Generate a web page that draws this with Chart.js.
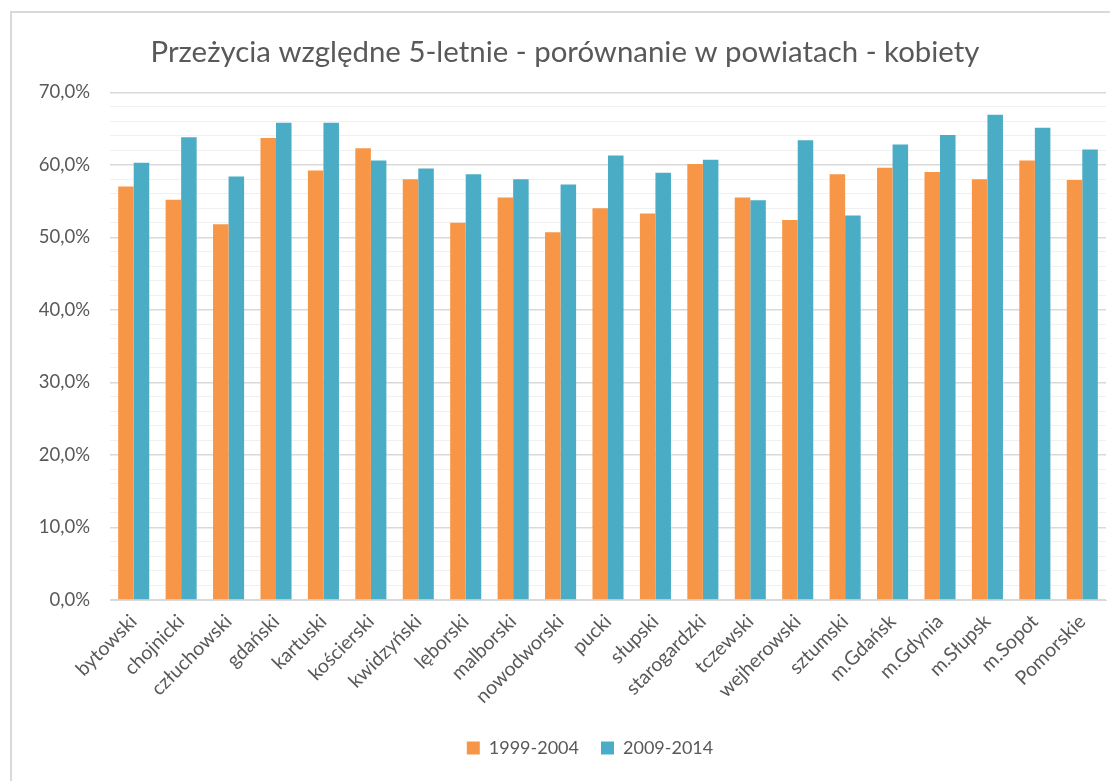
<!DOCTYPE html>
<html lang="pl">
<head>
<meta charset="utf-8">
<title>Przeżycia względne 5-letnie - kobiety</title>
<script src="https://cdn.jsdelivr.net/npm/chart.js@4/dist/chart.umd.min.js"></script>
<style>
    html, body { margin: 0; padding: 0; background: #fff; }
    #wrap { position: relative; width: 1110px; height: 781px; overflow: hidden; }
    #frame {
        position: absolute; left: 10px; top: 11px; width: 1300px; height: 900px;
        border-top: 2px solid #d9d9d9; border-left: 2px solid #d9d9d9;
    }
    #chartPrzezycia { position: absolute; left: 0; top: 0; }
</style>
</head>
<body>
<div id="wrap">
    <div id="frame"></div>
    <canvas id="chartPrzezycia" width="1110" height="781"></canvas>
</div>
<script>
// powiaty województwa pomorskiego
const powiaty = [
    'bytowski', 'chojnicki', 'człuchowski', 'gdański', 'kartuski', 'kościerski',
    'kwidzyński', 'lęborski', 'malborski', 'nowodworski', 'pucki', 'słupski',
    'starogardzki', 'tczewski', 'wejherowski', 'sztumski', 'm.Gdańsk', 'm.Gdynia',
    'm.Słupsk', 'm.Sopot', 'Pomorskie'
];

// przeżycia względne 5-letnie (%)
const okres1999_2004 = [
    57.0, 55.2, 51.8, 63.7, 59.2, 62.3, 58.0, 52.0, 55.5, 50.7, 54.0,
    53.3, 60.1, 55.5, 52.4, 58.7, 59.6, 59.0, 58.0, 60.6, 57.9
];
const okres2009_2014 = [
    60.3, 63.8, 58.4, 65.8, 65.8, 60.6, 59.5, 58.7, 58.0, 57.3, 61.3,
    58.9, 60.7, 55.1, 63.4, 53.0, 62.8, 64.1, 66.9, 65.1, 62.1
];

const yMin = 0;
const yMax = 70;
const yKrok = 2;        // linie pomocnicze co 2%
const yEtykietaCo = 10; // opisy osi co 10%

const FONT = 'Lato, "Open Sans", sans-serif';
const SZARY = '#595959';

// przesunięcie tytułu i legendy względem środka płótna
const przesunBloki = {
    id: 'przesunBloki',
    afterLayout(chart) {
        const t = chart.titleBlock;
        if (t) { t.left += 12; t.right += 12; }
        const l = chart.legend;
        if (l) { l.left += 37; l.right += 37; l.top -= 6; l.bottom -= 6; }
    }
};

const ctx = document.getElementById('chartPrzezycia').getContext('2d');

new Chart(ctx, {
    type: 'bar',
    data: {
        labels: powiaty,
        datasets: [{
            label: '1999-2004',
            data: okres1999_2004,
            backgroundColor: '#f79646',
            borderWidth: 0
        }, {
            label: '2009-2014',
            data: okres2009_2014,
            backgroundColor: '#4bacc6',
            borderWidth: 0
        }]
    },
    plugins: [przesunBloki],
    options: {
        responsive: false,
        animation: false,
        devicePixelRatio: 1,
        layout: { padding: { left: 0, right: 4, top: 0, bottom: 8 } },
        datasets: {
            bar: { barPercentage: 1, categoryPercentage: 0.655 }
        },
        plugins: {
            title: {
                display: true,
                text: 'Przeżycia względne 5-letnie - porównanie w powiatach - kobiety',
                color: SZARY,
                font: { family: FONT, size: 29.4, weight: 'normal' },
                padding: { top: 35, bottom: 22 }
            },
            legend: {
                position: 'bottom',
                labels: {
                    color: SZARY,
                    font: { family: FONT, size: 18 },
                    boxWidth: 13,
                    boxHeight: 13,
                    padding: 22,
                    useBorderRadius: false
                }
            },
            tooltip: { enabled: false }
        },
        scales: {
            x: {
                grid: { display: false },
                border: { color: '#d9d9d9', width: 1 },
                ticks: {
                    color: SZARY,
                    font: { family: FONT, size: 19.5 },
                    minRotation: 45,
                    maxRotation: 45,
                    autoSkip: false,
                    padding: 2
                },
                afterFit: scale => { scale.height = 123; }
            },
            y: {
                min: yMin,
                max: yMax,
                border: { display: false },
                grid: {
                    drawTicks: false,
                    color: c => (c.tick && c.tick.value % yEtykietaCo === 0) ? '#d9d9d9' : '#f0f0f0',
                    lineWidth: c => (c.tick && c.tick.value % yEtykietaCo === 0) ? 1.5 : 1
                },
                ticks: {
                    stepSize: yKrok,
                    autoSkip: false,
                    color: SZARY,
                    font: { family: FONT, size: 18.5 },
                    padding: 20,
                    callback: v => v % yEtykietaCo === 0 ? v.toFixed(1).replace('.', ',') + '%' : ''
                },
                afterFit: scale => { scale.width = 110; }
            }
        }
    }
});
</script>
</body>
</html>
